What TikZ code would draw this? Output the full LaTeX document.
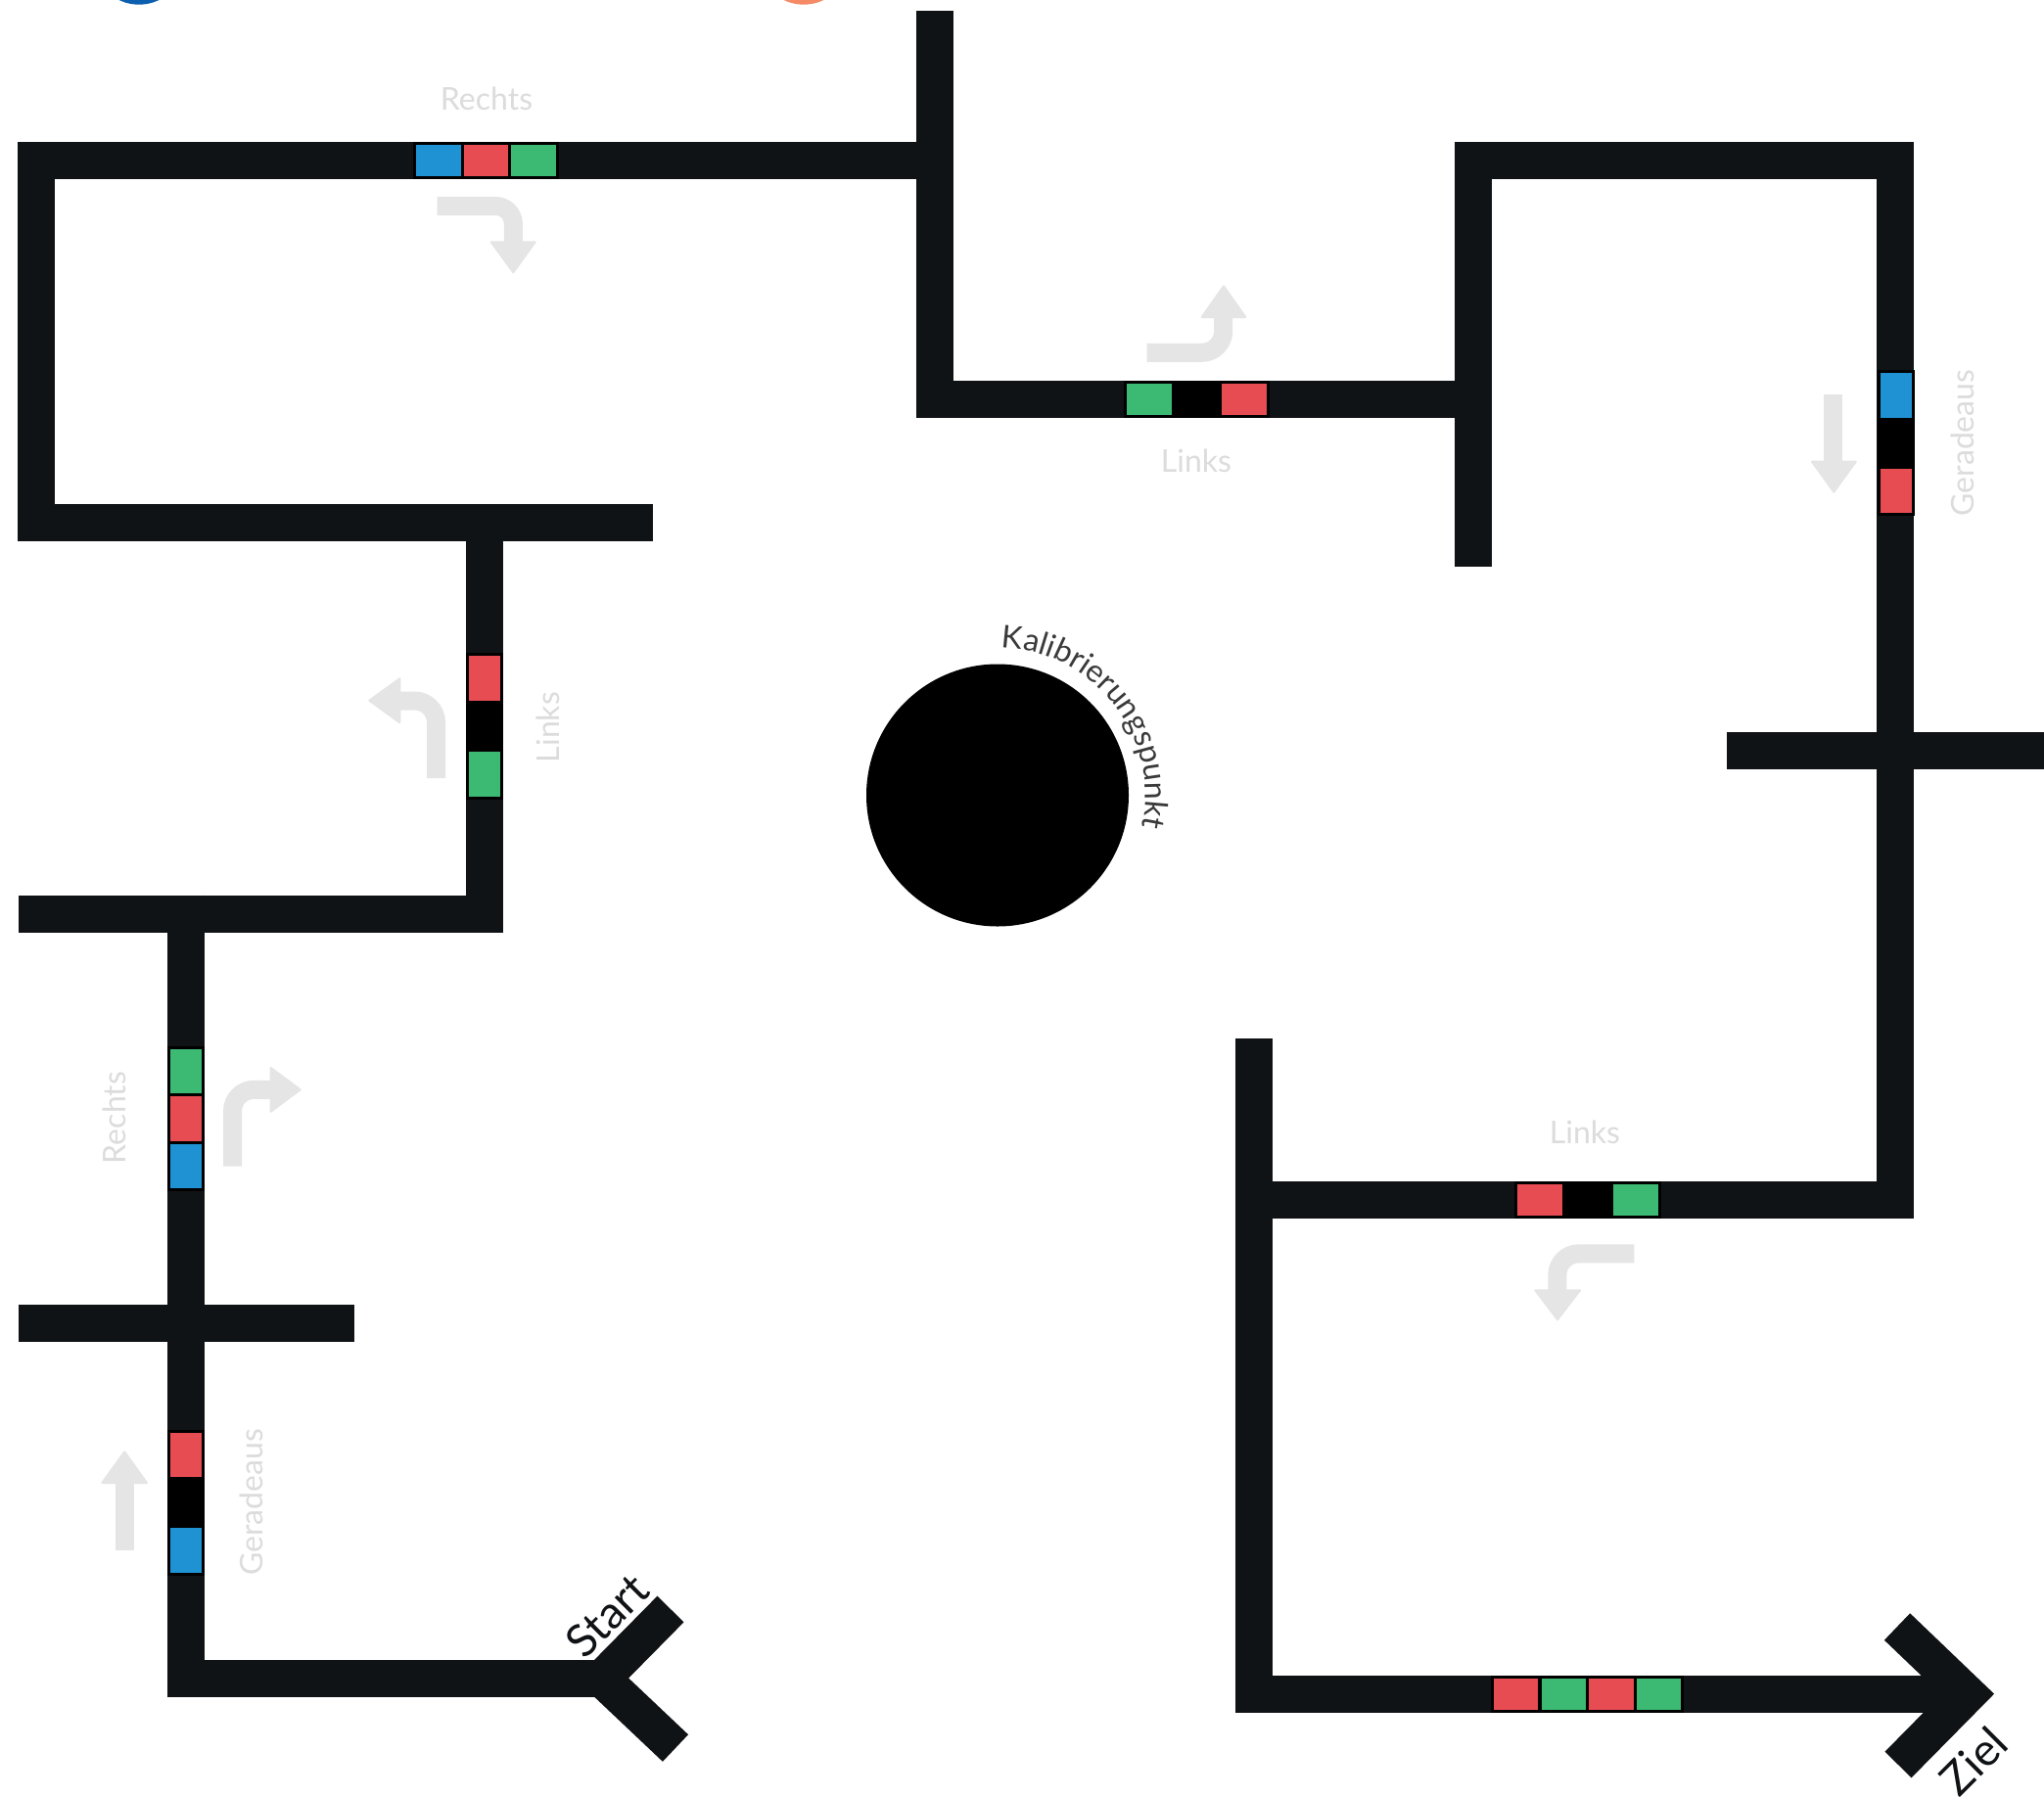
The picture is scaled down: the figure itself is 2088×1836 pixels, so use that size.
\documentclass[tikz,border=0pt]{standalone}
\usepackage{fontspec}
\setmainfont{Lato}
\usetikzlibrary{decorations.text}
\definecolor{track}{HTML}{101316}
\definecolor{mblue}{HTML}{1E92D2}
\definecolor{mred}{HTML}{E64C52}
\definecolor{mgreen}{HTML}{3CB973}
\definecolor{agrey}{HTML}{E5E5E5}
\definecolor{lgrey}{HTML}{DCDCDC}
\definecolor{kgrey}{HTML}{3A3A3A}
\definecolor{topblue}{HTML}{0B5FAE}
\definecolor{toporange}{HTML}{F58A66}
\newcommand\lblfont{\fontsize{32}{38}\selectfont}
\newcommand\kalfont{\fontsize{32}{38}\selectfont\color{kgrey}}
\newcommand\hmarker[3]{\filldraw[mk,fill=#3] (#1-24.25,#2-17.5) rectangle (#1+24.25,#2+17.5);}
\newcommand\vmarker[3]{\filldraw[mk,fill=#3] (#1-17.5,#2-24.25) rectangle (#1+17.5,#2+24.25);}
\begin{document}
\begin{tikzpicture}[x=1pt,y=-1pt,
  trk/.style={draw=track, line width=38pt, line join=miter, line cap=butt},
  mk/.style={draw=black, line width=3pt},
  ashaft/.style={draw=agrey, line width=19pt, line cap=butt},
  ahead/.style={fill=agrey, draw=agrey, line width=2pt, line join=round},
  lbl/.style={text=lgrey, font=\lblfont, inner sep=0pt, anchor=base},
  big/.style={text=track, font=\fontsize{46}{54}\selectfont, inner sep=0pt, anchor=base}]
\clip (0,0) rectangle (2088,1836);
\fill[white] (0,0) rectangle (2088,1836);
% partial circles at the top edge
\fill[topblue] (142,-41.9) circle[radius=46.6];
\fill[toporange] (821,-41.9) circle[radius=46.6];

% ---- track ----
\draw[trk] (955,11) -- (955,407.5) -- (1523.7,407.5);
\draw[trk] (974,164) -- (37.3,164) -- (37.3,534) -- (667,534);
\draw[trk] (495.4,515) -- (495.4,933.5) -- (18.5,933.5);
\draw[trk] (190.4,914.5) -- (190.4,1715) -- (615,1715);
\draw[trk] (18.5,1351.6) -- (362,1351.6);
\draw[trk] (685,1644) -- (615,1715) -- (690,1786);
\draw[trk] (1504.7,579) -- (1504.7,164) -- (1936.2,164) -- (1936.2,1226.4) -- (1262.4,1226.4);
\draw[trk] (1764.4,767) -- (2095,767);
\draw[trk] (1281,1061.3) -- (1281,1731) -- (2010,1731);
\draw[trk] (1938,1662) -- (2010,1731) -- (1939,1803);

% ---- colour markers ----
\hmarker{448}{164}{mblue}\hmarker{496.5}{164}{mred}\hmarker{545}{164}{mgreen}
\hmarker{1174}{407.5}{mgreen}\hmarker{1222.5}{407.5}{black}\hmarker{1271}{407.5}{mred}
\vmarker{1936.5}{404}{mblue}\vmarker{1936.5}{452.5}{black}\vmarker{1936.5}{501.5}{mred}
\vmarker{495.4}{693}{mred}\vmarker{495.4}{741.5}{black}\vmarker{495.4}{791}{mgreen}
\vmarker{190.4}{1095}{mgreen}\vmarker{190.4}{1143}{mred}\vmarker{190.4}{1191.5}{mblue}
\vmarker{190.4}{1487}{mred}\vmarker{190.4}{1535}{black}\vmarker{190.4}{1584}{mblue}
\hmarker{1573}{1226.4}{mred}\hmarker{1622}{1226.4}{black}\hmarker{1671}{1226.4}{mgreen}
\hmarker{1548.7}{1731}{mred}\hmarker{1597.5}{1731}{mgreen}\hmarker{1646}{1731}{mred}\hmarker{1694.5}{1731}{mgreen}

% ---- grey turn arrows ----
\draw[ashaft, rounded corners=18pt] (446.7,210.5) -- (524.3,210.5) -- (524.3,248);
\filldraw[ahead] (501.7,247.3) -- (546.7,247.3) -- (524.3,278.3) -- cycle;

\draw[ashaft, rounded corners=22pt] (1171.7,360.3) -- (1249.7,360.3) -- (1249.7,323);
\filldraw[ahead] (1227.7,324) -- (1272.3,324) -- (1250,292.3) -- cycle;

\draw[ashaft] (1872.8,402.7) -- (1872.8,472);
\filldraw[ahead] (1851,471.7) -- (1895.7,471.7) -- (1873.3,502.7) -- cycle;

\draw[ashaft, rounded corners=22pt] (445.5,795) -- (445.5,716) -- (408,716);
\filldraw[ahead] (408.3,693.3) -- (408.3,738.3) -- (377.3,715.7) -- cycle;

\draw[ashaft, rounded corners=22pt] (237.5,1191.7) -- (237.5,1113.3) -- (277,1113.3);
\filldraw[ahead] (276.7,1091) -- (276.7,1135.7) -- (306.7,1113.3) -- cycle;

\draw[ashaft] (127.2,1584) -- (127.2,1514);
\filldraw[ahead] (104.3,1515) -- (150,1515) -- (127.2,1483.3) -- cycle;

\draw[ashaft, rounded corners=22pt] (1669.3,1280.8) -- (1590.8,1280.8) -- (1590.8,1319);
\filldraw[ahead] (1568.3,1318.3) -- (1614,1318.3) -- (1591,1348.3) -- cycle;

% ---- labels ----
\node[lbl] (l1) at (497,112.7) {Rechts};
\node[lbl] (l2) at (1222,482.7) {Links};
\node[lbl, rotate=90] (l3) at (2016.5,452.5) {Geradeaus};
\node[lbl, rotate=90] (l4) at (571.7,743) {Links};
\node[lbl, rotate=90] (l5) at (128.3,1142) {Rechts};
\node[lbl, rotate=90] (l6) at (268.3,1535) {Geradeaus};
\node[lbl] (l7) at (1619,1168.3) {Links};

% ---- calibration point ----
\node[circle, fill=black, minimum size=268pt, inner sep=0pt] (kp) at (1019,812.5) {};
\path[decorate, decoration={text along path, text={|\kalfont|Kalibrierungspunkt}, text align=left}]
  (1022.95,661.55) arc[start angle=-88.5, end angle=25, radius=151];

% ---- start / goal ----
\node[big, rotate=45] (start) at (632,1662) {Start};
\node[big, rotate=45] (ziel) at (2028,1811) {Ziel};
\end{tikzpicture}
\end{document}
